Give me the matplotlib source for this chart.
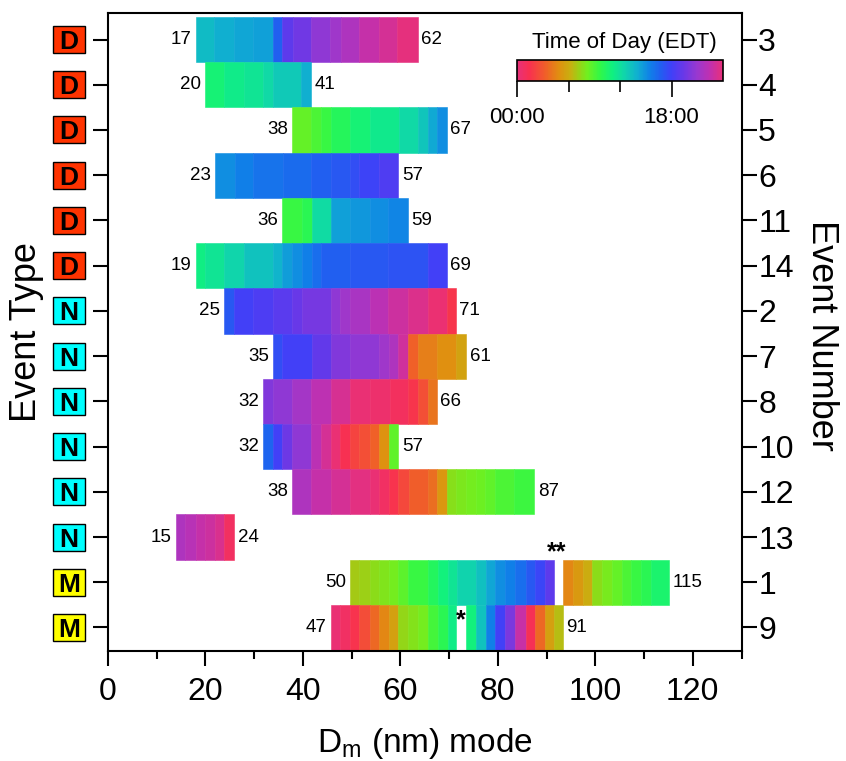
import matplotlib
matplotlib.use("Agg")  # headless
import matplotlib.pyplot as plt
import matplotlib.transforms as mtransforms
from matplotlib.colors import LinearSegmentedColormap, Normalize
from matplotlib.patches import Rectangle
import numpy as np

plt.rcParams['font.family'] = ['Liberation Sans', 'DejaVu Sans']

# rows, top to bottom
event_numbers = ['3', '4', '5', '6', '11', '14', '2', '7', '8', '10', '12', '13', '1', '9']
event_types = ['D', 'D', 'D', 'D', 'D', 'D', 'N', 'N', 'N', 'N', 'N', 'N', 'M', 'M']
start_labels = [17, 20, 38, 23, 36, 19, 25, 35, 32, 32, 38, 15, 50, 47]
end_labels = [62, 41, 67, 57, 59, 69, 71, 61, 66, 57, 87, 24, 115, 91]

# Dm bin edges (nm) and hour of day for each segment (None = no data)
edges3 = [18.0, 21.8, 25.9, 29.8, 33.9, 35.8, 38.0, 41.7, 45.5, 47.9, 51.6, 55.7, 59.4, 63.6]
hours3 = [13.5, 14.0, 14.3, 14.5, 16.7, 19.0, 19.6, 20.7, 21.2, 21.8, 22.6, 23.2, 23.9]
edges4 = [19.9, 23.8, 27.9, 31.8, 33.9, 39.7, 41.7]
hours4 = [10.8, 11.4, 11.8, 12.3, 13.0, 14.0]
edges5 = [37.8, 41.7, 43.8, 45.8, 49.6, 53.7, 59.8, 63.6, 65.6, 67.5, 69.5]
hours5 = [8.5, 9.0, 9.5, 10.2, 10.8, 11.5, 12.3, 13.2, 14.2, 15.0]
edges6 = [21.9, 26.0, 29.8, 35.9, 41.7, 45.8, 49.6, 51.6, 55.7, 59.6]
hours6 = [15.0, 15.5, 16.0, 16.3, 16.7, 17.0, 17.4, 17.9, 18.5]
edges11 = [35.8, 39.9, 41.9, 45.7, 49.6, 53.7, 57.5, 61.6]
hours11 = [9.5, 10.0, 12.2, 14.5, 14.8, 15.0, 15.3]
edges14 = [18.0, 19.9, 23.8, 27.9, 33.9, 35.8, 37.8, 39.9, 41.9, 43.8, 49.6, 57.5, 65.6, 69.5]
hours14 = [11.2, 11.8, 12.5, 13.3, 13.8, 14.6, 15.0, 15.5, 16.2, 16.7, 17.0, 17.2, 18.0]
edges2 = [23.8, 25.9, 29.8, 33.9, 37.8, 39.9, 45.7, 47.7, 49.6, 53.7, 57.5, 61.5, 65.6, 69.5, 71.4]
hours2 = [17.0, 18.0, 18.4, 18.9, 19.4, 19.8, 20.7, 21.2, 21.6, 22.3, 22.9, 23.5, 0.3, 1.6]
edges7 = [33.9, 35.8, 41.9, 45.7, 49.6, 55.7, 57.7, 59.6, 61.5, 63.6, 67.5, 71.4, 73.5]
hours7 = [17.4, 18.0, 19.2, 20.2, 20.7, 21.2, 21.8, 23.0, 3.3, 4.4, 4.9, 5.7]
edges8 = [31.8, 33.9, 37.8, 41.7, 45.7, 49.6, 53.7, 57.8, 61.5, 63.6, 65.6, 67.5]
hours8 = [20.2, 20.7, 21.4, 22.4, 23.3, 0.2, 0.5, 1.0, 1.6, 2.7, 4.0]
edges10 = [31.8, 33.9, 35.8, 37.8, 41.7, 43.8, 45.8, 47.7, 49.6, 51.6, 53.7, 55.7, 57.6, 59.6]
hours10 = [16.5, 18.0, 19.5, 20.7, 22.3, 23.2, 0.2, 1.4, 2.2, 2.7, 3.3, 5.0, 8.6]
edges12 = [37.8, 41.7, 45.7, 49.6, 53.7, 55.7, 57.6, 59.6, 61.7, 65.6, 67.6, 69.5, 71.5, 73.5,
           75.5, 77.4, 79.4, 83.4, 87.5]
hours12 = [21.8, 22.6, 23.2, 23.8, 0.2, 0.8, 1.5, 2.4, 3.2, 3.8, 5.2, 7.6, 7.9, 8.1, 8.3, 8.6, 9.0, 9.4]
edges13 = [13.9, 15.9, 18.0, 19.9, 21.9, 23.8, 25.9]
hours13 = [21.8, 22.2, 22.6, 22.9, 23.4, 0.9]
edges1 = [49.7, 51.6, 53.7, 55.7, 57.6, 59.6, 61.5, 65.6, 67.7, 69.7, 71.6, 75.5, 77.6, 79.5, 81.5,
          83.6, 85.7, 87.6, 89.6, 91.5, 93.3, 95.4, 97.4, 99.3, 101.4, 103.4, 105.5, 107.3, 109.4,
          111.4, 115.2]
hours1 = [7.0, 7.2, 7.5, 7.8, 8.1, 8.7, 9.5, 10.3, 11.0, 11.8, 12.6, 13.4, 14.3, 15.0, 15.5, 16.2,
          17.0, 17.8, 19.0, None, 4.6, 5.3, 6.0, 7.5, 8.0, 8.5, 9.0, 9.5, 10.0, 10.6]
edges9 = [45.7, 47.7, 49.7, 51.6, 53.7, 55.7, 57.6, 59.6, 61.5, 63.6, 65.6, 67.7, 69.7, 71.4, 73.5,
          75.5, 77.6, 79.5, 81.5, 83.6, 85.7, 87.6, 89.6, 91.5, 93.3]
hours9 = [0.2, 0.8, 1.5, 2.6, 3.6, 4.6, 5.6, 7.4, 7.7, 8.1, 9.2, 10.0, 11.3, None, 11.0, 13.3, 15.5,
          18.0, 20.0, 22.7, 1.3, 3.6, 5.6, 6.6]

seg_edges = [edges3, edges4, edges5, edges6, edges11, edges14, edges2, edges7, edges8, edges10,
             edges12, edges13, edges1, edges9]
seg_hours = [hours3, hours4, hours5, hours6, hours11, hours14, hours2, hours7, hours8, hours10,
             hours12, hours13, hours1, hours9]

# gaps flagged with asterisks
note_rows = [12, 13]
note_x = [92.0, 72.4]
note_text = ['**', '*']

type_colors = {'D': '#ff3300', 'N': '#00ffff', 'M': '#ffff00'}

# time-of-day colour wheel
cmap_hours = [0, 1.4, 3.3, 4.9, 6.2, 7.4, 8.2, 9.7, 11.1, 12.4, 14, 15.5, 16.7, 18, 19.4, 21, 22.5, 24]
cmap_colors = ['#e8307a', '#f83050', '#f06028', '#e09010', '#c8b010', '#90d818', '#70f020',
               '#30f848', '#10f080', '#10d8a8', '#10b0d0', '#1080e8', '#2060f0', '#4040f8',
               '#6838e8', '#9838d0', '#c030b0', '#e8307a']
cmap = LinearSegmentedColormap.from_list('tod', list(zip(np.array(cmap_hours) / 24.0, cmap_colors)))
norm = Normalize(0, 24)

W, H = 846, 761
fig = plt.figure(figsize=(W / 100, H / 100), dpi=100)
ax = fig.add_axes([108 / W, 1 - 651 / H, 633.5 / W, 637.7 / H])

for i, (edges, hours) in enumerate(zip(seg_edges, seg_hours)):
    for left, right, h in zip(edges[:-1], edges[1:], hours):
        if h is None:
            continue
        c = cmap(norm(h))
        ax.barh(i, right - left, left=left, height=1.0, color=c, edgecolor=c, linewidth=0.4)
    ax.annotate(str(start_labels[i]), (edges[0], i), xytext=(-3, 0), textcoords='offset points',
                ha='right', va='center', fontsize=13.5)
    ax.annotate(str(end_labels[i]), (edges[-1], i), xytext=(2.5, 0), textcoords='offset points',
                ha='left', va='center', fontsize=13.5)

for r, x, t in zip(note_rows, note_x, note_text):
    ax.text(x, r - 0.5 if t == '**' else r, t, ha='center', va='baseline', fontsize=18,
            fontweight='bold')

ax.set_xlim(0, 130)
ax.set_ylim(13.52, -0.58)
ax.set_xticks(range(0, 121, 20))
ax.set_xticks(range(10, 131, 20), minor=True)
ax.set_yticks(range(len(event_numbers)))
ax.set_yticklabels(event_numbers)
for s in ax.spines.values():
    s.set_linewidth(1.5)
ax.tick_params(axis='x', which='major', length=11, width=1.5, labelsize=23, pad=8)
ax.tick_params(axis='x', which='minor', length=5.5, width=1.5)
ax.tick_params(axis='y', left=True, right=True, labelleft=False, labelright=True,
               length=11, width=1.5, labelsize=23, pad=1)

# event type boxes on the left
trans = mtransforms.blended_transform_factory(ax.transAxes, ax.transData)
bx0 = (53 - 108) / 633.5
bw = 32 / 633.5
bh = 27 / 45.23
for i, t in enumerate(event_types):
    ax.add_patch(Rectangle((bx0, i - bh / 2), bw, bh, transform=trans, clip_on=False,
                           facecolor=type_colors[t], edgecolor='black', linewidth=1.0))
    ax.text(bx0 + bw / 2, i, t, transform=trans, ha='center', va='center_baseline',
            fontsize=19, fontweight='bold')

fig.text(27 / W, 1 - 332 / H, 'Event Type', rotation=90, ha='center', va='center', fontsize=26)
fig.text(821 / W, 1 - 335 / H, 'Event Number', rotation=270, ha='center', va='center', fontsize=26)
fig.text(424.5 / W, 1 - 752 / H, r'D$_\mathregular{m}$ (nm) mode', ha='center', va='baseline',
         fontsize=24)

# colour bar legend
cax = fig.add_axes([517 / W, 1 - 81 / H, 206 / W, 21 / H])
sm = plt.cm.ScalarMappable(norm=norm, cmap=cmap)
cb = fig.colorbar(sm, cax=cax, orientation='horizontal')
cb.set_ticks([0, 18], labels=['00:00', '18:00'])
cax.set_xticks([6, 12], minor=True)
cax.tick_params(which='major', length=11.5, width=1.2, pad=7.5, labelsize=16)
cax.tick_params(which='minor', length=8, width=1.2)
cb.outline.set_linewidth(1.2)
fig.text(624 / W, 1 - 48.3 / H, 'Time of Day (EDT)', ha='center', va='baseline', fontsize=16)

fig.savefig('out.png', dpi=100)
